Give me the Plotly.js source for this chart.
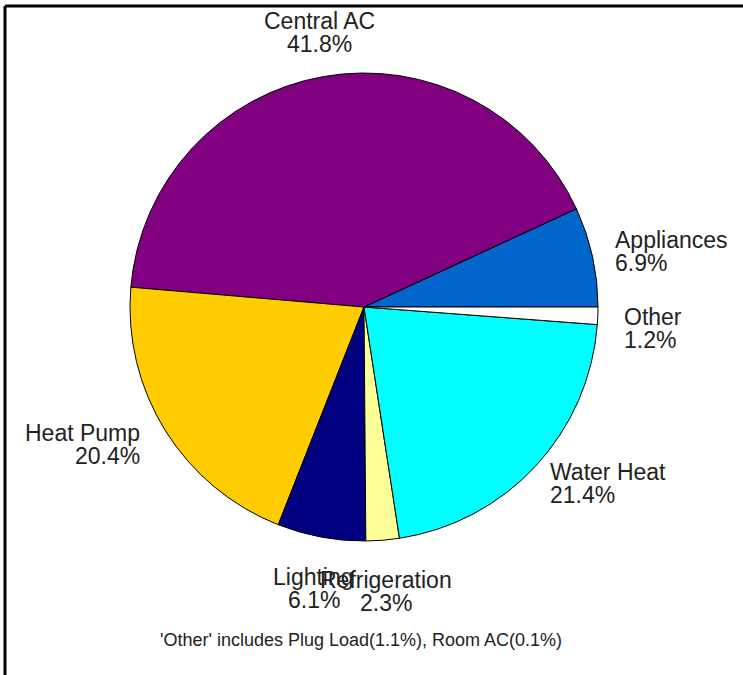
<!DOCTYPE html>
<html>
<head>
<meta charset="utf-8">
<script src="https://cdn.plot.ly/plotly-3.0.1.min.js"></script>
<style>
  html, body { margin: 0; padding: 0; background: #fff; }
  #chart { width: 743px; height: 675px; }
</style>
</head>
<body>
<div id="chart"></div>
<script>
// ---- data ----
const categories = ['Appliances', 'Central AC', 'Heat Pump', 'Lighting', 'Refrigeration', 'Water Heat', 'Other'];
const shares = [6.9, 41.8, 20.4, 6.1, 2.3, 21.4, 1.2];
const footnote = "'Other' includes Plug Load(1.1%), Room AC(0.1%)";

// ---- styles ----
const sliceColors = ['#0066CC', '#800080', '#FFCC00', '#000080', '#FFFF99', '#00FFFF', '#FFFFFF'];
const labelDy = [0, 0, 0, 0, 0, 0, 11];   // small vertical nudges (px)
const labelDx = [-4, 0, -2, -3, 1, -6, -1];

const W = 743, H = 675;
const CX = 364, CY = 307, R = 234;
const dom = {
  x: [(CX - R) / W, (CX + R) / W],
  y: [1 - (CY + R) / H, 1 - (CY - R) / H]
};

const FS = 23, LINE = 23, CAP = 17;
const textColor = '#222222';
const font = 'Liberation Sans, Arial, sans-serif';

const annotations = [];
const total = shares.reduce((a, b) => a + b, 0);
let cum = 0;
shares.forEach((v, i) => {
  const a0 = cum / total * 360;
  cum += v;
  const a1 = cum / total * 360;
  const mid = (a0 + a1) / 2 * Math.PI / 180;
  const c = Math.cos(mid), s = Math.sin(mid);
  const rL = R * 1.107;
  const ax = CX + rL * c + labelDx[i];
  const ay = CY - rL * s;
  let xanchor = 'center';
  if (c > 0.35) xanchor = 'left';
  else if (c < -0.35) xanchor = 'right';
  let b1;
  if (s > 0.7) b1 = ay - LINE;
  else if (s < -0.7) b1 = ay + 6 + CAP;
  else b1 = ay + labelDy[i] - 3;
  const b2 = b1 + LINE;
  const lines = [categories[i], v.toFixed(1) + '%'];
  [b1, b2].forEach((b, k) => {
    annotations.push({
      xref: 'paper', yref: 'paper',
      x: ax / W, y: 1 - (b - 8) / H,
      xanchor: xanchor, yanchor: 'middle',
      text: lines[k], showarrow: false,
      font: { family: font, size: FS, color: textColor }
    });
  });
});

annotations.push({
  xref: 'paper', yref: 'paper',
  x: 361 / W, y: 1 - 640 / H,
  xanchor: 'center', yanchor: 'middle',
  text: footnote, showarrow: false,
  font: { family: font, size: 18, color: textColor }
});

// first slice starts at 3 o'clock and runs counterclockwise
const firstSliceDeg = shares[0] / total * 360;

const trace = {
  type: 'pie',
  labels: categories,
  values: shares,
  sort: false,
  direction: 'counterclockwise',
  rotation: 90 - firstSliceDeg,
  textinfo: 'none',
  hoverinfo: 'label+percent',
  marker: { colors: sliceColors, line: { color: '#000', width: 1 } },
  domain: dom
};

const layout = {
  width: W, height: H,
  margin: { l: 0, r: 0, t: 0, b: 0 },
  paper_bgcolor: '#fff',
  showlegend: false,
  annotations: annotations,
  shapes: [
    { type: 'line', xref: 'paper', yref: 'paper', x0: 5 / W, x1: 1.05, y0: 1 - 6 / H, y1: 1 - 6 / H, line: { color: '#000', width: 3 } },
    { type: 'line', xref: 'paper', yref: 'paper', x0: 5 / W, x1: 5 / W, y0: 1 - 6 / H, y1: -0.05, line: { color: '#000', width: 3 } }
  ]
};

Plotly.newPlot('chart', [trace], layout, { displayModeBar: false, staticPlot: true });
</script>
</body>
</html>
